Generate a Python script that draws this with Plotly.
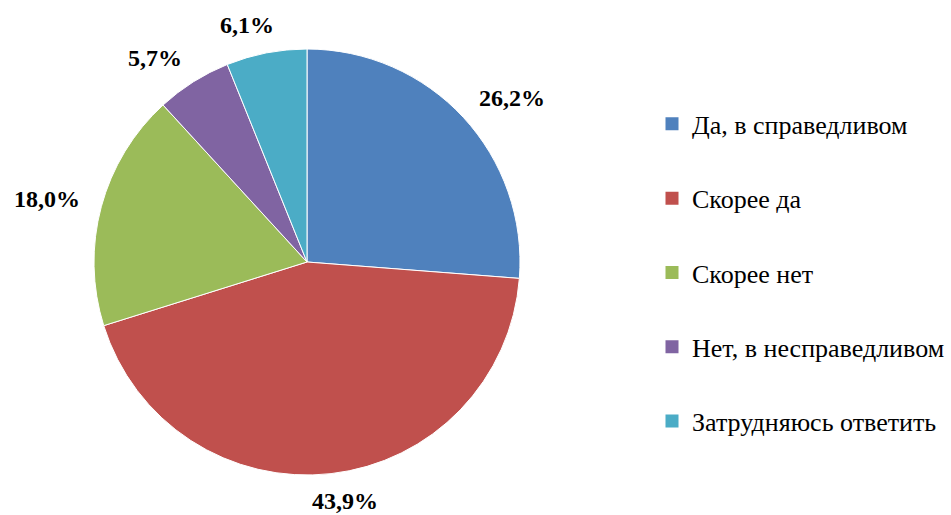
import math
import plotly.graph_objects as go

categories = ["Да, в справедливом", "Скорее да", "Скорее нет", "Нет, в несправедливом", "Затрудняюсь ответить"]
values = [26.2, 43.9, 18.0, 5.7, 6.1]
colors = ["#4F81BD", "#C0504D", "#9BBB59", "#8064A2", "#4BACC6"]

W, H = 951, 515
SERIF = "Liberation Serif"
LABEL_SIZE = 24

# pie placement (pixels)
PCX, PCY, PR = 307, 262, 213
dom_x = [(PCX - PR) / W, (PCX + PR) / W]
dom_y = [1 - (PCY + PR) / H, 1 - (PCY - PR) / H]

fig = go.Figure()
fig.add_trace(go.Pie(
    labels=categories, values=values, sort=False, direction="clockwise", rotation=0,
    marker=dict(colors=colors, line=dict(color="white", width=1)),
    textinfo="none", showlegend=False, hoverinfo="label+value",
    domain=dict(x=dom_x, y=dom_y),
))
for c, col in zip(categories, colors):
    fig.add_trace(go.Scatter(
        x=[None], y=[None], mode="markers", name=c, legendgroup=c,
        marker=dict(symbol="square", size=13, color=col),
    ))

# outside data labels, positioned from slice mid-angles
total = sum(values)
cum = 0.0
annotations = []
for v in values:
    mid = (cum + v / 2) / total * 2 * math.pi
    cum += v
    dx, dy = math.sin(mid), -math.cos(mid)
    txt = f"{v:.1f}%".replace(".", ",")
    nd = len(txt) - 2
    hw = (0.5 * nd + 1.25) * LABEL_SIZE / 2
    hh = 6
    gap = 22
    sx = math.copysign(min(1.0, 3 * abs(dx)), dx)
    px = PCX + dx * (PR + gap) + sx * hw
    py = PCY + dy * (PR + gap) + dy * hh
    annotations.append(dict(
        x=px / W, y=1 - py / H, xref="paper", yref="paper",
        text=f"<b>{txt}</b>", showarrow=False, xanchor="center", yanchor="middle",
        font=dict(family=SERIF, size=LABEL_SIZE, color="black"),
    ))

fig.update_layout(
    width=W, height=H, margin=dict(l=0, r=0, t=0, b=0),
    paper_bgcolor="white", plot_bgcolor="white",
    xaxis=dict(visible=False), yaxis=dict(visible=False),
    annotations=annotations,
    legend=dict(x=652 / W, y=0.471, xanchor="left", yanchor="middle",
                font=dict(family=SERIF, size=26, color="black"),
                tracegroupgap=37.5, itemwidth=30),
)
fig.write_html("out.html", config={"displayModeBar": False},
               post_script="document.body.style.margin='0';")
